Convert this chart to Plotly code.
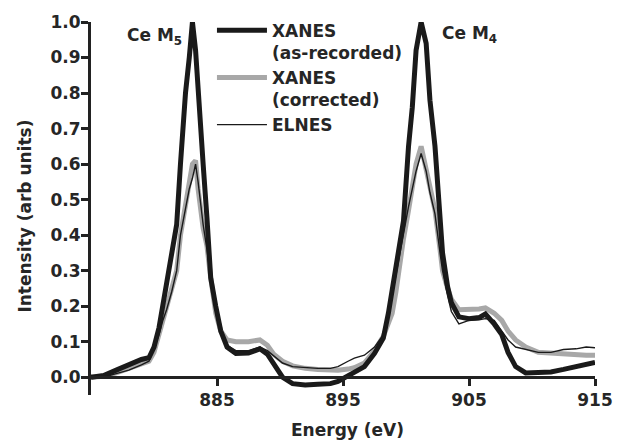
import plotly.graph_objects as go

energy = [875, 876, 877, 878, 879, 879.6, 880, 880.4, 880.7, 881, 881.4, 881.8, 882.1, 882.5,
          882.8, 883.05, 883.3, 883.5, 883.9, 884.2, 884.5, 884.9, 885.3, 885.8, 886.5, 887.5,
          888.4, 889, 889.5, 890.2, 891, 892, 893, 894, 894.6, 895.4, 895.9, 896.7, 897.5,
          898.2, 898.6, 898.9, 899.2, 899.5, 899.8, 900.2, 900.5, 900.8, 901.2, 901.6, 901.9,
          902.3, 902.7, 902.9, 903.3, 903.6, 904.2, 905, 905.8, 906.3, 907, 907.6, 908.1,
          908.7, 909.5, 910.5, 911.5, 912.5, 913.5, 914.3, 915]

xanes_recorded = [0.0, 0.005, 0.02, 0.035, 0.05, 0.055, 0.085, 0.14, 0.2, 0.26, 0.33, 0.43,
                  0.6, 0.8, 0.9, 1.0, 0.92, 0.8, 0.6, 0.45, 0.28, 0.2, 0.13, 0.085, 0.067,
                  0.068, 0.08, 0.065, 0.04, 0.0, -0.018, -0.022, -0.02, -0.018, -0.012, 0.003,
                  0.012, 0.03, 0.067, 0.11, 0.18, 0.245, 0.33, 0.39, 0.44, 0.65, 0.76, 0.92,
                  1.0, 0.94, 0.78, 0.65, 0.44, 0.35, 0.255, 0.21, 0.17, 0.165, 0.168, 0.178,
                  0.15, 0.12, 0.07, 0.03, 0.012, 0.012, 0.015, 0.022, 0.03, 0.036, 0.042]

xanes_corrected = [0.0, 0.003, 0.012, 0.025, 0.04, 0.045, 0.07, 0.12, 0.16, 0.19, 0.24, 0.3,
                   0.4, 0.49, 0.55, 0.6, 0.61, 0.53, 0.42, 0.37, 0.28, 0.18, 0.13, 0.105, 0.1,
                   0.1, 0.105, 0.09, 0.065, 0.045, 0.032, 0.025, 0.022, 0.02, 0.02, 0.023,
                   0.027, 0.04, 0.075, 0.115, 0.15, 0.18, 0.24, 0.32, 0.39, 0.47, 0.54, 0.6,
                   0.65, 0.59, 0.53, 0.47, 0.36, 0.3, 0.25, 0.22, 0.19, 0.19, 0.192, 0.195,
                   0.18, 0.16, 0.13, 0.105, 0.085, 0.07, 0.067, 0.065, 0.063, 0.062, 0.062]

elnes = [0.005, 0.0, 0.01, 0.02, 0.035, 0.045, 0.08, 0.12, 0.16, 0.19, 0.24, 0.3, 0.4, 0.48,
         0.53, 0.56, 0.6, 0.55, 0.43, 0.36, 0.28, 0.19, 0.13, 0.09, 0.075, 0.075, 0.085, 0.075,
         0.06, 0.04, 0.03, 0.027, 0.025, 0.025, 0.03, 0.045, 0.054, 0.062, 0.085, 0.12, 0.17,
         0.23, 0.29, 0.35, 0.41, 0.48, 0.53, 0.58, 0.63, 0.58, 0.52, 0.46, 0.35, 0.3, 0.23,
         0.185, 0.15, 0.16, 0.162, 0.165, 0.16, 0.13, 0.105, 0.085, 0.078, 0.07, 0.07, 0.078,
         0.08, 0.085, 0.083]

x_ticks = [885, 895, 905, 915]
y_ticks = [0.0, 0.1, 0.2, 0.3, 0.4, 0.5, 0.6, 0.7, 0.8, 0.9, 1.0]

FONT = "DejaVu Sans, Liberation Sans, Arial, sans-serif"

fig = go.Figure()
fig.add_trace(go.Scatter(x=energy, y=xanes_corrected, mode="lines",
                         name="XANES<br>(corrected)", legendrank=2,
                         line=dict(color="#a8a8a8", width=5)))
fig.add_trace(go.Scatter(x=energy, y=xanes_recorded, mode="lines",
                         name="XANES<br>(as-recorded)", legendrank=1,
                         line=dict(color="#1a1a1a", width=5)))
fig.add_trace(go.Scatter(x=energy, y=elnes, mode="lines",
                         name="ELNES", legendrank=3,
                         line=dict(color="#1a1a1a", width=1.4)))

L, R, T, B = 91, 18, 22, 46
H = 441 - T - B

fig.update_layout(
    width=625, height=441,
    margin=dict(l=L, r=R, t=T, b=B, pad=0),
    paper_bgcolor="white", plot_bgcolor="white",
    font=dict(family=FONT, size=17, color="#262626", weight=700),
    showlegend=True,
    legend=dict(x=0.24, y=1.025, xanchor="left", yanchor="top",
                bgcolor="rgba(0,0,0,0)", valign="top",
                font=dict(size=17, weight=700), tracegroupgap=2, itemwidth=50),
    xaxis=dict(range=[875, 915], anchor="free", position=0.05 / 1.05,
               showline=True, linecolor="#222222", linewidth=2.5,
               ticks="outside", ticklen=7, tickwidth=2.5, tickcolor="#222222",
               tickvals=x_ticks, showgrid=False, zeroline=False,
               tickfont=dict(size=17, weight=700)),
    yaxis=dict(range=[-0.05, 1.0], showline=True, linecolor="#222222", linewidth=3,
               ticks="outside", ticklen=7, tickwidth=2.5, tickcolor="#222222",
               tickvals=y_ticks, tickformat=".1f", showgrid=False, zeroline=False,
               ticklabelstandoff=-3,
               tickfont=dict(size=17, weight=700)),
)

def px_x(px):
    return (px - L) / (625 - L - R)

def px_y(py):
    return (441 - B - py) / H

fig.add_annotation(text="Energy (eV)", x=px_x(354), y=px_y(430), xref="paper", yref="paper",
                   showarrow=False, font=dict(size=17, weight=700), xanchor="center", yanchor="middle")
fig.add_annotation(text="Intensity (arb units)", x=px_x(23), y=px_y(216), xref="paper", yref="paper",
                   showarrow=False, textangle=-90, font=dict(size=17, weight=700),
                   xanchor="center", yanchor="middle")
fig.add_annotation(text="Ce M<sub>5</sub>", x=px_x(126), y=px_y(36), xref="paper", yref="paper",
                   showarrow=False, font=dict(size=17, weight=700), xanchor="left", yanchor="middle")
fig.add_annotation(text="Ce M<sub>4</sub>", x=px_x(448), y=px_y(34), xref="paper", yref="paper",
                   showarrow=False, font=dict(size=17, weight=700), xanchor="left", yanchor="middle")

fig.write_html("out.html")
